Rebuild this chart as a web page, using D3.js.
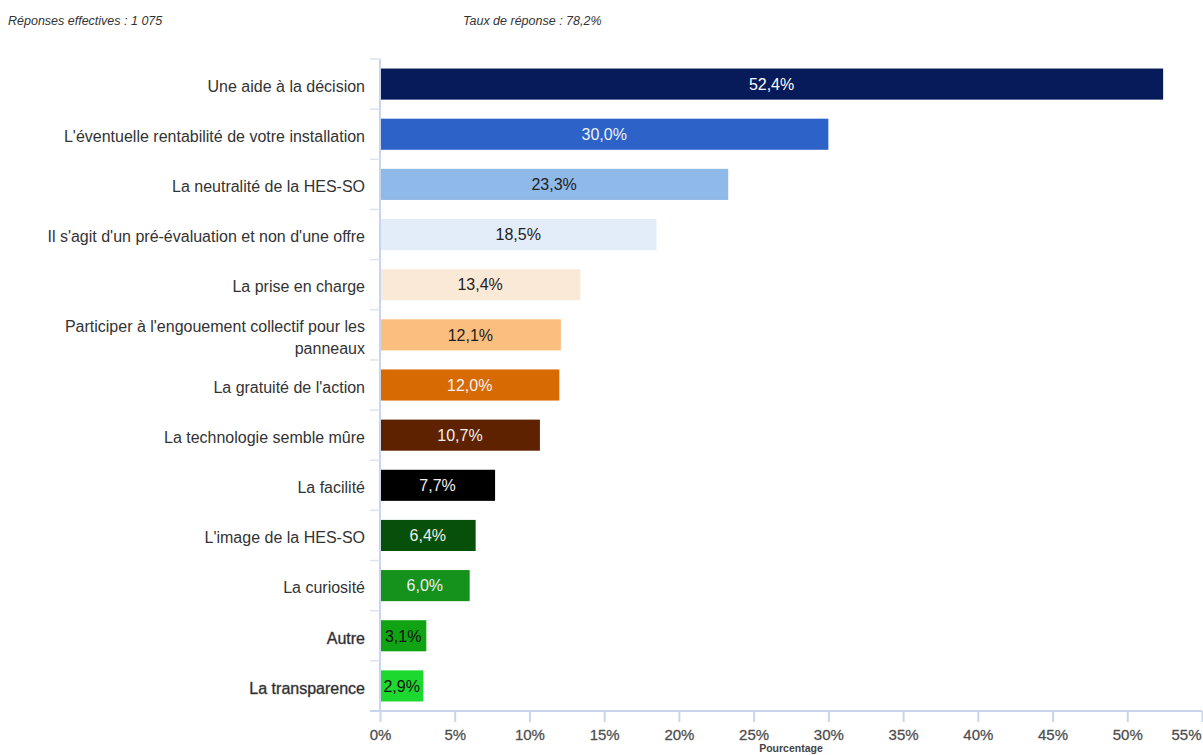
<!DOCTYPE html>
<html>
<head>
<meta charset="utf-8">
<script src="https://cdn.jsdelivr.net/npm/d3@7"></script>
<style>
  html, body { margin: 0; padding: 0; background: #fff; }
  svg { display: block; font-family: "Liberation Sans", Arial, sans-serif; }
</style>
</head>
<body>
<svg id="chart" width="1203" height="755"></svg>
<script>
// Motivations citées, en % des réponses
const categories = [
  "Une aide à la décision",
  "L'éventuelle rentabilité de votre installation",
  "La neutralité de la HES-SO",
  "Il s'agit d'un pré-évaluation et non d'une offre",
  "La prise en charge",
  "Participer à l'engouement collectif pour les|panneaux",
  "La gratuité de l'action",
  "La technologie semble mûre",
  "La facilité",
  "L'image de la HES-SO",
  "La curiosité",
  "Autre",
  "La transparence"
];
const values = [52.4, 30.0, 23.3, 18.5, 13.4, 12.1, 12.0, 10.7, 7.7, 6.4, 6.0, 3.1, 2.9];
const barColors = [
  "#071b5b", "#2d62c9", "#8fb9e9", "#e3ecf9", "#fbe9d8", "#fbbe7f", "#d86a04",
  "#5f2200", "#000000", "#075009", "#14921b", "#10a313", "#1dd82e"
];
const labelColors = [
  "#ffffff", "#f2f2f2", "#222222", "#222222", "#222222", "#222222", "#f4f4f4",
  "#f0f0f0", "#f0f0f0", "#f0f0f0", "#eeeeee", "#111111", "#111111"
];
const xTicks = [0, 5, 10, 15, 20, 25, 30, 35, 40, 45, 50, 55];
const headerLeft = "Réponses effectives : 1 075";
const headerRight = "Taux de réponse : 78,2%";
const xTitle = "Pourcentage";

const fmt = v => v.toFixed(1).replace(".", ",") + "%";

const svg = d3.select("#chart");
const plotLeft = 380, plotRight = 1202, plotTop = 59, plotBottom = 711;
const axisColor = "#c9d5ec";

const x = d3.scaleLinear().domain([0, 55]).range([plotLeft, plotRight]);
const y = d3.scaleBand().domain(categories).range([plotTop, plotBottom]).paddingInner(0.38).paddingOuter(0.19);

// En-tête
svg.append("text").attr("x", 8).attr("y", 25)
  .attr("font-size", 12.5).attr("font-style", "italic").attr("fill", "#333")
  .text(headerLeft);
svg.append("text").attr("x", 463).attr("y", 25)
  .attr("font-size", 12.5).attr("font-style", "italic").attr("fill", "#333")
  .text(headerRight);

// Barres
svg.append("g").selectAll("rect").data(categories).join("rect")
  .attr("x", x(0))
  .attr("y", d => y(d))
  .attr("width", (d, i) => x(values[i]) - x(0))
  .attr("height", y.bandwidth())
  .attr("fill", (d, i) => barColors[i]);

// Valeurs dans les barres
svg.append("g").selectAll("text").data(categories).join("text")
  .attr("x", (d, i) => (x(0) + x(values[i])) / 2)
  .attr("y", d => y(d) + y.bandwidth() / 2)
  .attr("dy", "0.36em")
  .attr("text-anchor", "middle")
  .attr("font-size", 16)
  .attr("fill", (d, i) => labelColors[i])
  .text((d, i) => fmt(values[i]));

// Axe vertical : libellés des catégories
const yAxis = svg.append("g");
yAxis.append("line").attr("x1", plotLeft).attr("x2", plotLeft).attr("y1", plotTop).attr("y2", plotBottom)
  .attr("stroke", axisColor).attr("stroke-width", 2);
const step = y.step();
const bounds = d3.range(categories.length).map(i => plotTop + i * step);
yAxis.selectAll("line.tick").data(bounds).join("line").attr("class", "tick")
  .attr("x1", plotLeft - 10).attr("x2", plotLeft).attr("y1", d => d).attr("y2", d => d)
  .attr("stroke", "#dde4f0").attr("stroke-width", 1.5);

const catLabels = yAxis.selectAll("text").data(categories).join("text")
  .attr("text-anchor", "end")
  .attr("font-size", 16)
  .attr("fill", (d, i) => i >= 11 ? "#222" : "#333")
  .attr("stroke", (d, i) => i >= 11 ? "#555" : "none")
  .attr("stroke-width", 0.4)
  .attr("transform", d => `translate(365,${y(d) + y.bandwidth() / 2 + 2})`);
catLabels.each(function (d) {
  const lines = d.split("|");
  const t = d3.select(this);
  const lh = 22;
  lines.forEach((ln, k) => {
    t.append("tspan").attr("x", 0)
      .attr("y", (k - (lines.length - 1) / 2) * lh)
      .attr("dy", "0.36em")
      .text(ln);
  });
});

// Axe horizontal
const xAxis = svg.append("g").attr("transform", `translate(0,${plotBottom})`)
  .call(d3.axisBottom(x).tickValues(xTicks).tickFormat(d => d + "%").tickSize(11).tickPadding(7));
xAxis.select(".domain").attr("stroke", axisColor).attr("stroke-width", 2)
  .attr("d", `M${plotLeft - 10},0H${plotRight}`);
xAxis.selectAll(".tick line").attr("stroke", axisColor).attr("stroke-width", 2);
xAxis.selectAll(".tick text")
  .attr("font-size", 15).attr("fill", "#444")
  .attr("stroke", "#666").attr("stroke-width", 0.3)
  .attr("font-family", "'Liberation Sans', Arial, sans-serif");
// Dernière graduation : libellé recalé dans la zone visible
xAxis.selectAll(".tick").filter(d => d === 55).select("text")
  .attr("text-anchor", "end").attr("x", -1);

svg.append("text").attr("x", (plotLeft + plotRight) / 2).attr("y", 752)
  .attr("text-anchor", "middle").attr("font-size", 10.5).attr("font-weight", "bold")
  .attr("fill", "#444").text(xTitle);
</script>
</body>
</html>
